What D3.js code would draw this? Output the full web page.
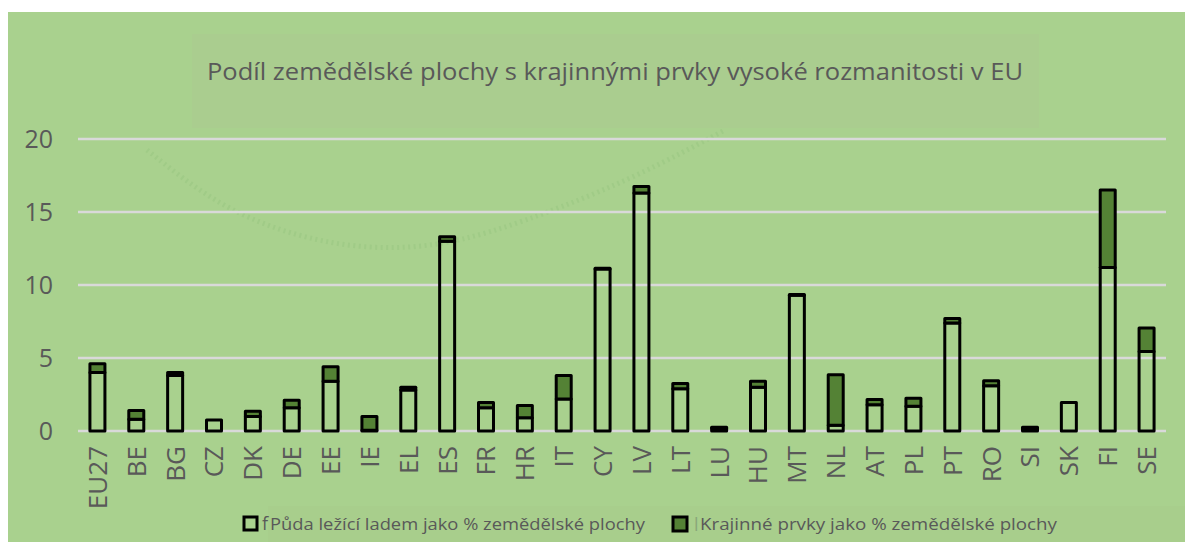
<!DOCTYPE html>
<html>
<head>
<meta charset="utf-8">
<script src="https://cdn.jsdelivr.net/npm/d3@7"></script>
<style>
  body { margin: 0; background: #fff; }
  text { font-family: "Open Sans", "Noto Sans", sans-serif; fill: #595959; }
</style>
</head>
<body>
<svg id="chart" width="1185" height="542"></svg>
<script>
// data
const countries = ["EU27","BE","BG","CZ","DK","DE","EE","IE","EL","ES","FR","HR","IT","CY",
                   "LV","LT","LU","HU","MT","NL","AT","PL","PT","RO","SI","SK","FI","SE"];
const fallow    = [4.0, 0.8, 3.8, 0.75, 1.0, 1.6, 3.4, 0.05, 2.8, 13.0, 1.6, 0.9, 2.2, 11.1,
                   16.3, 2.9, 0.2, 3.0, 9.3, 0.4, 1.8, 1.7, 7.4, 3.1, 0.2, 1.95, 11.2, 5.45];
const landscape = [0.6, 0.6, 0.2, 0.0, 0.35, 0.5, 1.0, 0.95, 0.2, 0.3, 0.35, 0.85, 1.6, 0.05,
                   0.45, 0.35, 0.05, 0.4, 0.05, 3.45, 0.35, 0.55, 0.3, 0.35, 0.05, 0.0, 5.3, 1.6];
const yTicks = [0, 5, 10, 15, 20];
const seriesNames = ["Půda ležící ladem jako % zemědělské plochy",
                     "Krajinné prvky jako % zemědělské plochy"];
const titleText = "Podíl zemědělské plochy s krajinnými prvky vysoké rozmanitosti v EU";

const svg = d3.select("#chart");
const bg = "#a9d18e", dark = "#548235";

// panel + boxes
svg.append("rect").attr("x", 8).attr("y", 12).attr("width", 1177).attr("height", 530).attr("fill", bg);
svg.append("rect").attr("x", 192).attr("y", 34).attr("width", 847).attr("height", 94).attr("fill", "#aacd8f");
svg.append("rect").attr("x", 268).attr("y", 506).attr("width", 917).attr("height", 36).attr("fill", "#a8ce8c");

// faint decorative dotted arc
const deco = [[147,150],[220,208],[300,238],[368,249],[430,247],[490,233],[560,208],[640,175],[725,130]];
svg.append("path")
  .attr("d", d3.line().curve(d3.curveBasis)(deco))
  .attr("fill", "none").attr("stroke", "#a0cb87")
  .attr("stroke-width", 5).attr("stroke-dasharray", "2 3.5");

// title
svg.append("text")
  .attr("x", 615).attr("y", 80).attr("text-anchor", "middle")
  .attr("font-size", 23).attr("textLength", 816).attr("lengthAdjust", "spacingAndGlyphs")
  .text(titleText);

// scales
const x = d3.scaleBand().domain(countries).range([78, 1166]).paddingInner(0.614).paddingOuter(0.307);
const y = d3.scaleLinear().domain([0, 20]).range([431, 139]);

// gridlines + y labels
svg.append("g").selectAll("line").data(yTicks).join("line")
  .attr("x1", 78).attr("x2", 1166)
  .attr("y1", d => y(d)).attr("y2", d => y(d))
  .attr("stroke", "#d9d9d9").attr("stroke-width", 2.5);

svg.append("g").selectAll("text").data(yTicks).join("text")
  .attr("x", 53).attr("y", d => y(d)).attr("dy", "0.36em")
  .attr("text-anchor", "end").attr("font-size", 25)
  .text(d => d);

// stacked bars
const rows = countries.map((c, i) => ({ c, a: fallow[i], b: landscape[i] }));
const g = svg.append("g").attr("stroke", "#000").attr("stroke-width", 3).attr("stroke-linejoin", "round");

g.selectAll("rect.fallow").data(rows).join("rect").attr("class", "fallow")
  .attr("x", d => x(d.c)).attr("width", x.bandwidth())
  .attr("y", d => y(d.a)).attr("height", d => y(0) - y(d.a))
  .attr("fill", "none");

g.selectAll("rect.land").data(rows.filter(d => d.b > 0)).join("rect").attr("class", "land")
  .attr("x", d => x(d.c)).attr("width", x.bandwidth())
  .attr("y", d => y(d.a + d.b)).attr("height", d => y(d.a) - y(d.a + d.b))
  .attr("fill", dark);

// x labels (rotated)
svg.append("g").selectAll("text").data(countries).join("text")
  .attr("transform", d => `translate(${x(d) + x.bandwidth() / 2},446) rotate(-90)`)
  .attr("dy", "0.36em").attr("text-anchor", "end").attr("font-size", 26)
  .text(d => d);

// legend
const lg = svg.append("g");
lg.append("rect").attr("x", 244).attr("y", 517).attr("width", 13).attr("height", 13)
  .attr("fill", "none").attr("stroke", "#000").attr("stroke-width", 3);
lg.append("text").attr("x", 262).attr("y", 530).attr("font-size", 18).text("f");
lg.append("text").attr("x", 270).attr("y", 530).attr("font-size", 17)
  .attr("textLength", 375).attr("lengthAdjust", "spacingAndGlyphs").text(seriesNames[0]);

lg.append("rect").attr("x", 673).attr("y", 517).attr("width", 14).attr("height", 14)
  .attr("fill", dark).attr("stroke", "#000").attr("stroke-width", 3);
lg.append("text").attr("x", 694).attr("y", 531).attr("font-size", 18).style("fill", "#8aa77a").text("l");
lg.append("text").attr("x", 700).attr("y", 530).attr("font-size", 17)
  .attr("textLength", 357).attr("lengthAdjust", "spacingAndGlyphs").text(seriesNames[1]);
</script>
</body>
</html>
